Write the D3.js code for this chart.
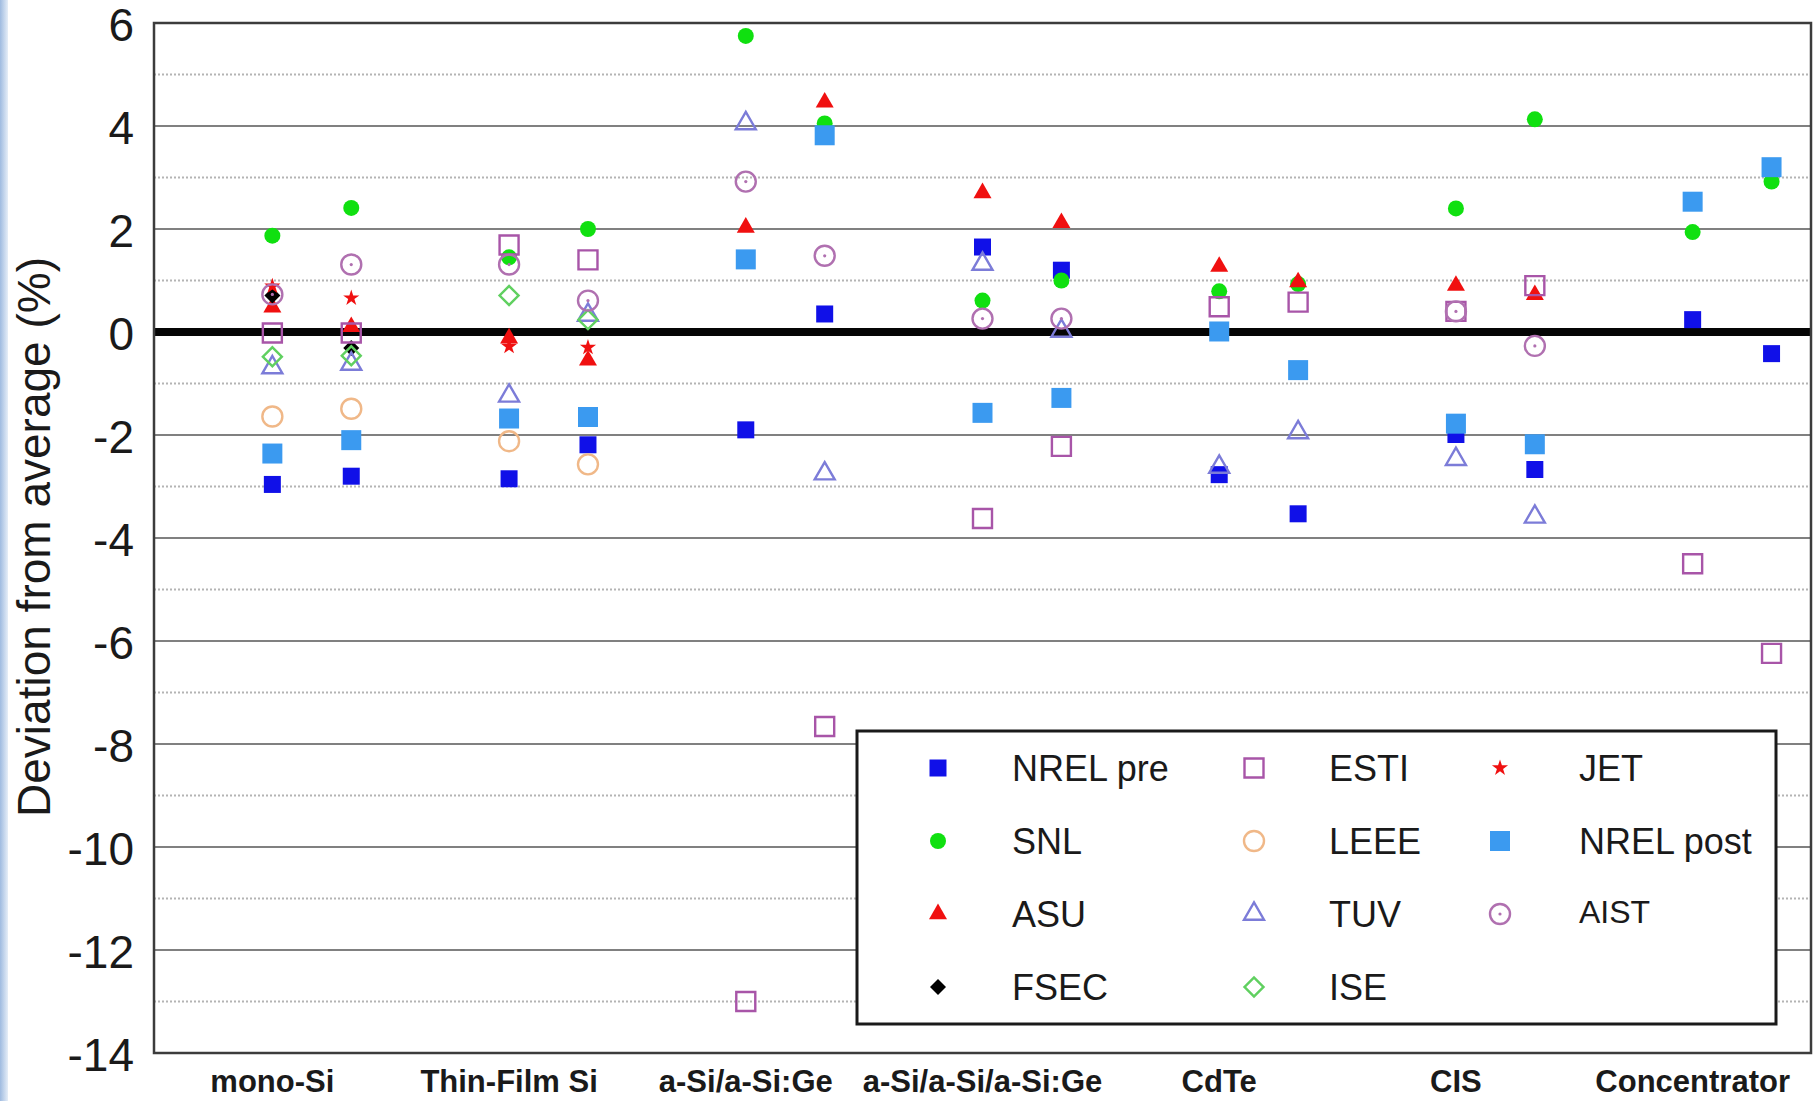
<!DOCTYPE html>
<html>
<head>
<meta charset="utf-8">
<script src="https://cdn.jsdelivr.net/npm/d3@7"></script>
<style>
  body { margin: 0; background: #fff; }
  text { font-family: "Liberation Sans", Arial, sans-serif; }
</style>
</head>
<body>
<svg id="chart" width="1820" height="1101"></svg>
<script>
// categories on the x axis, two measurement columns each
const categories = ["mono-Si", "Thin-Film Si", "a-Si/a-Si:Ge", "a-Si/a-Si/a-Si:Ge", "CdTe", "CIS", "Concentrator"];
const yTicks = [6, 4, 2, 0, -2, -4, -6, -8, -10, -12, -14];

// values per column: [catA, catB] for each category in order (null = no point)
const nrelPre  = [-2.96, -2.80, -2.85, -2.19, -1.90, 0.35, 1.65, 1.20, -2.77, -3.53, -1.99, -2.67, 0.24, -0.42];
const snl      = [1.87, 2.41, 1.45, 2.00, 5.75, 4.05, 0.61, 1.00, 0.79, 0.93, 2.40, 4.13, 1.94, 2.92];
const asu      = [0.48, 0.10, -0.12, -0.55, 2.03, 4.46, 2.70, 2.12, 1.27, 0.97, 0.90, 0.72, null, null];
const fsec     = [0.71, -0.31, null, null, null, null, null, null, null, null, null, null, null, null];
const esti     = [-0.02, -0.02, 1.69, 1.40, -13.0, -7.66, -3.62, -2.22, 0.49, 0.58, 0.40, 0.90, -4.50, -6.24];
const leee     = [-1.64, -1.49, -2.12, -2.57, null, null, null, null, null, null, null, null, null, null];
const tuv      = [-0.69, -0.62, -1.24, 0.33, 4.05, -2.75, 1.32, 0.02, -2.62, -1.95, -2.47, -3.59, null, null];
const ise      = [-0.48, -0.46, 0.71, 0.24, null, null, null, null, null, null, null, null, null, null];
const jet      = [0.89, 0.66, -0.28, -0.30, null, null, null, null, null, null, null, null, null, null];
const nrelPost = [-2.36, -2.10, -1.68, -1.65, 1.41, 3.82, -1.57, -1.28, 0.01, -0.74, -1.78, -2.18, 2.53, 3.20];
const aist     = [0.73, 1.31, 1.31, 0.61, 2.92, 1.48, 0.26, 0.26, null, null, 0.40, -0.27, null, null];

const series = [
  { name: "NREL pre",  values: nrelPre,  shape: "square",   w: 17, fill: "#1010e8", stroke: "none" },
  { name: "SNL",       values: snl,      shape: "circle",   w: 16, fill: "#10e010", stroke: "none" },
  { name: "ASU",       values: asu,      shape: "triangle", w: 18, fill: "#f01010", stroke: "none" },
  { name: "FSEC",      values: fsec,     shape: "diamond",  w: 16, fill: "#000",    stroke: "none" },
  { name: "ESTI",      values: esti,     shape: "square",   w: 19, fill: "none",    stroke: "#a855a8" },
  { name: "LEEE",      values: leee,     shape: "circle",   w: 20, fill: "none",    stroke: "#f0b888" },
  { name: "TUV",       values: tuv,      shape: "triangle", w: 20, fill: "none",    stroke: "#7c7cd8" },
  { name: "ISE",       values: ise,      shape: "diamond",  w: 19, fill: "none",    stroke: "#60d060" },
  { name: "JET",       values: jet,      shape: "star",     w: 17, fill: "#f01010", stroke: "none" },
  { name: "NREL post", values: nrelPost, shape: "square",   w: 20, fill: "#3b9af0", stroke: "none" },
  { name: "AIST",      values: aist,     shape: "dotcircle",w: 20, fill: "none",    stroke: "#b070b0" }
];

const svg = d3.select("#chart");
const margin = { top: 23, right: 9, bottom: 48, left: 154 };
const width = 1820 - margin.left - margin.right;
const height = 1101 - margin.top - margin.bottom;

// light blue strip on the left edge of the slide
const grad = svg.append("defs").append("linearGradient").attr("id", "edge")
  .attr("x1", 0).attr("x2", 1).attr("y1", 0).attr("y2", 0);
grad.append("stop").attr("offset", "0%").attr("stop-color", "#9fbbe0");
grad.append("stop").attr("offset", "100%").attr("stop-color", "#e6eef8");
svg.append("rect").attr("x", 0).attr("y", 0).attr("width", 8).attr("height", 1101).attr("fill", "url(#edge)");

const chart = svg.append("g").attr("transform", `translate(${margin.left},${margin.top})`);

const xScale = d3.scaleBand().domain(categories).range([0, width]).padding(0);
const yScale = d3.scaleLinear().domain([-14, 6]).range([height, 0]);
const colX = i => xScale(categories[Math.floor(i / 2)]) + xScale.bandwidth() / 2 + (i % 2) * xScale.bandwidth() / 3;

// gridlines: solid at even values, dotted at odd
const grid = chart.append("g");
d3.range(-13, 6, 2).forEach(v => {
  grid.append("line").attr("x1", 0).attr("x2", width)
    .attr("y1", yScale(v)).attr("y2", yScale(v))
    .attr("stroke", "#b4b4b4").attr("stroke-width", 2).attr("stroke-dasharray", "2,2");
});
d3.range(-12, 6, 2).filter(v => v !== 0).forEach(v => {
  grid.append("line").attr("x1", 0).attr("x2", width)
    .attr("y1", yScale(v)).attr("y2", yScale(v))
    .attr("stroke", "#808080").attr("stroke-width", 2.2);
});

// y axis labels (plain hyphen for negatives)
const yAxis = chart.append("g").call(d3.axisLeft(yScale).tickValues(yTicks)
  .tickFormat(d => String(d)).tickSize(0).tickPadding(20));
yAxis.select(".domain").remove();
yAxis.selectAll("text").style("font-size", "46px").attr("fill", "#1a1a1a").attr("dy", "0.38em")
  .style("font-family", "'Liberation Sans', Arial, sans-serif");

// x axis labels
const xAxis = chart.append("g").attr("transform", `translate(0,${height})`)
  .call(d3.axisBottom(xScale).tickSize(0).tickPadding(17));
xAxis.select(".domain").remove();
xAxis.selectAll("text").style("font-size", "31px").style("font-weight", "bold").attr("fill", "#1a1a1a")
  .style("font-family", "'Liberation Sans', Arial, sans-serif");

// zero line
chart.append("line").attr("x1", 0).attr("x2", width)
  .attr("y1", yScale(0)).attr("y2", yScale(0))
  .attr("stroke", "#050505").attr("stroke-width", 8);

// plot frame
chart.append("rect").attr("x", 0).attr("y", 0).attr("width", width).attr("height", height)
  .attr("fill", "none").attr("stroke", "#3c3c3c").attr("stroke-width", 2.5);

// y axis title
svg.append("text")
  .attr("transform", `translate(50,537) rotate(-90)`)
  .attr("text-anchor", "middle")
  .style("font-size", "46px").attr("fill", "#1a1a1a")
  .text("Deviation from average (%)");

// marker drawing
function drawMarker(g, s) {
  const w = s.w;
  let type, size, rot = 0;
  if (s.shape === "square") { type = d3.symbolSquare; size = w * w; }
  else if (s.shape === "circle" || s.shape === "dotcircle") { type = d3.symbolCircle; size = Math.PI * w * w / 4; }
  else if (s.shape === "triangle") { type = d3.symbolTriangle; size = Math.sqrt(3) / 4 * w * w; }
  else if (s.shape === "diamond") { type = d3.symbolSquare; size = w * w / 2; rot = 45; }
  else if (s.shape === "star") { type = d3.symbolStar; size = (w / 2) * (w / 2) / 0.8908; }
  g.append("path")
    .attr("d", d3.symbol().type(type).size(size)())
    .attr("transform", rot ? `rotate(${rot})` : null)
    .attr("fill", s.fill)
    .attr("stroke", s.stroke)
    .attr("stroke-width", s.stroke === "none" ? 0 : 2.4);
  if (s.shape === "dotcircle") {
    g.append("circle").attr("r", 1.6).attr("fill", s.stroke);
  }
}

series.forEach(s => {
  const pts = s.values.map((v, i) => ({ v, i })).filter(d => d.v !== null);
  chart.selectAll(null).data(pts).enter().append("g")
    .attr("transform", d => `translate(${colX(d.i)},${yScale(d.v)})`)
    .each(function() { drawMarker(d3.select(this), s); });
});

// legend
const legend = svg.append("g").attr("transform", "translate(857,731)");
legend.append("rect").attr("width", 919).attr("height", 293)
  .attr("fill", "#fff").attr("stroke", "#1a1a1a").attr("stroke-width", 3);
const legCols = [
  ["NREL pre", "SNL", "ASU", "FSEC"],
  ["ESTI", "LEEE", "TUV", "ISE"],
  ["JET", "NREL post", "AIST"]
];
const colMarkerX = [81, 397, 643];
const colTextX = [155, 472, 722];
legCols.forEach((names, c) => {
  names.forEach((name, r) => {
    const s = series.find(d => d.name === name);
    const y = 37 + r * 73;
    const item = legend.append("g").attr("transform", `translate(${colMarkerX[c]},${y})`);
    drawMarker(item, s);
    legend.append("text")
      .attr("x", colTextX[c]).attr("y", name === "AIST" ? y - 3 : y)
      .attr("dy", "0.36em")
      .style("font-size", name === "AIST" ? "32px" : "36px")
      .attr("fill", "#1a1a1a")
      .text(name);
  });
});
</script>
</body>
</html>
